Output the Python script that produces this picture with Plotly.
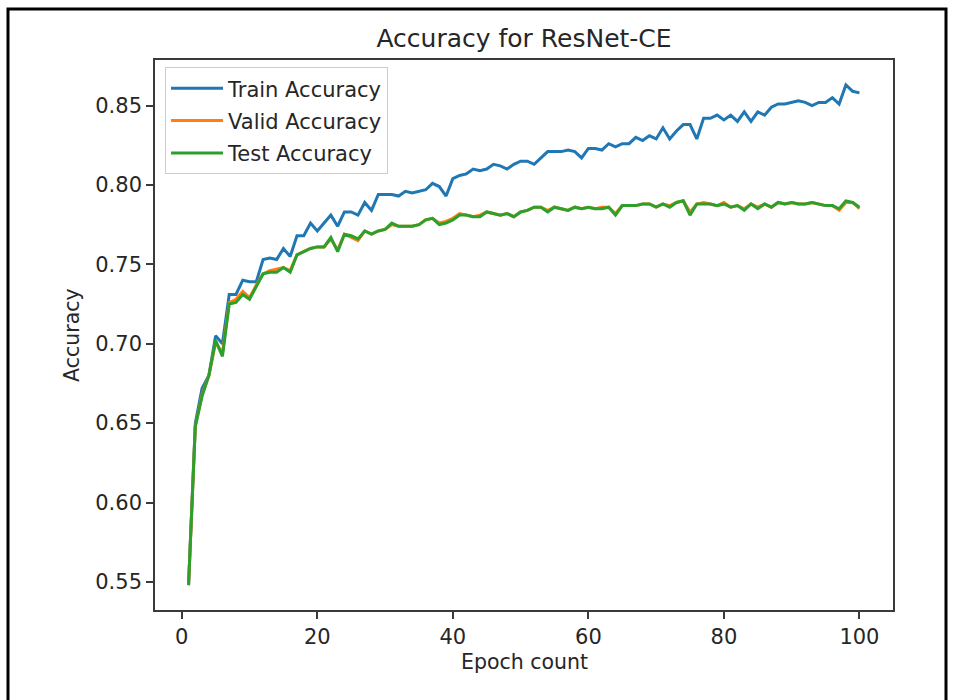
import plotly.graph_objects as go

epochs = list(range(1, 101))

train_acc = [
    0.548, 0.650, 0.672, 0.680, 0.705, 0.700, 0.731, 0.731, 0.740, 0.739,
    0.739, 0.753, 0.754, 0.753, 0.760, 0.755, 0.768, 0.768, 0.776, 0.771,
    0.776, 0.781, 0.774, 0.783, 0.783, 0.781, 0.789, 0.784, 0.794, 0.794,
    0.794, 0.793, 0.796, 0.795, 0.796, 0.797, 0.801, 0.799, 0.793, 0.804,
    0.806, 0.807, 0.810, 0.809, 0.810, 0.813, 0.812, 0.810, 0.813, 0.815,
    0.815, 0.813, 0.817, 0.821, 0.821, 0.821, 0.822, 0.821, 0.817, 0.823,
    0.823, 0.822, 0.826, 0.824, 0.826, 0.826, 0.830, 0.828, 0.831, 0.829,
    0.836, 0.829, 0.834, 0.838, 0.838, 0.829, 0.842, 0.842, 0.844, 0.841,
    0.844, 0.840, 0.846, 0.840, 0.846, 0.844, 0.849, 0.851, 0.851, 0.852,
    0.853, 0.852, 0.850, 0.852, 0.852, 0.855, 0.851, 0.863, 0.859, 0.858,
]

valid_acc = [
    0.548, 0.648, 0.668, 0.680, 0.701, 0.694, 0.726, 0.728, 0.733, 0.729,
    0.737, 0.744, 0.746, 0.747, 0.748, 0.746, 0.756, 0.758, 0.760, 0.761,
    0.761, 0.766, 0.759, 0.769, 0.767, 0.765, 0.771, 0.769, 0.771, 0.772,
    0.775, 0.774, 0.774, 0.774, 0.775, 0.778, 0.779, 0.776, 0.777, 0.779,
    0.782, 0.781, 0.780, 0.781, 0.783, 0.782, 0.781, 0.782, 0.780, 0.783,
    0.784, 0.786, 0.786, 0.784, 0.786, 0.785, 0.784, 0.786, 0.785, 0.786,
    0.785, 0.786, 0.786, 0.782, 0.787, 0.787, 0.787, 0.788, 0.788, 0.786,
    0.788, 0.787, 0.789, 0.790, 0.783, 0.788, 0.789, 0.788, 0.787, 0.789,
    0.786, 0.787, 0.785, 0.788, 0.786, 0.788, 0.786, 0.789, 0.788, 0.789,
    0.788, 0.788, 0.789, 0.788, 0.787, 0.787, 0.784, 0.789, 0.789, 0.785,
]

test_acc = [
    0.548, 0.648, 0.667, 0.680, 0.702, 0.692, 0.725, 0.726, 0.731, 0.728,
    0.736, 0.744, 0.745, 0.745, 0.748, 0.745, 0.756, 0.758, 0.760, 0.761,
    0.761, 0.767, 0.758, 0.769, 0.768, 0.766, 0.771, 0.769, 0.771, 0.772,
    0.776, 0.774, 0.774, 0.774, 0.775, 0.778, 0.779, 0.775, 0.776, 0.778,
    0.781, 0.781, 0.780, 0.780, 0.783, 0.782, 0.781, 0.782, 0.780, 0.783,
    0.784, 0.786, 0.786, 0.783, 0.786, 0.785, 0.784, 0.786, 0.785, 0.786,
    0.785, 0.785, 0.786, 0.781, 0.787, 0.787, 0.787, 0.788, 0.788, 0.786,
    0.788, 0.786, 0.789, 0.790, 0.781, 0.788, 0.788, 0.788, 0.787, 0.788,
    0.786, 0.787, 0.784, 0.788, 0.785, 0.788, 0.786, 0.789, 0.788, 0.789,
    0.788, 0.788, 0.789, 0.788, 0.787, 0.787, 0.785, 0.790, 0.789, 0.786,
]

x_ticks = [0, 20, 40, 60, 80, 100]
y_ticks = [0.55, 0.60, 0.65, 0.70, 0.75, 0.80, 0.85]

FONT = "DejaVu Sans"
AXC = "#3a3a3a"
TXT = "#262626"

fig = go.Figure()
fig.add_trace(go.Scatter(x=epochs, y=train_acc, mode="lines", name="Train Accuracy",
                         legendgroup="a", line=dict(color="#1f77b4", width=3)))
fig.add_trace(go.Scatter(x=epochs, y=valid_acc, mode="lines", name="Valid Accuracy",
                         legendgroup="b", line=dict(color="#ff7f0e", width=3)))
fig.add_trace(go.Scatter(x=epochs, y=test_acc, mode="lines", name="Test Accuracy",
                         legendgroup="c", line=dict(color="#2ca02c", width=3)))

axis_common = dict(
    showline=True, mirror=True, linecolor=AXC, linewidth=1.6,
    ticks="outside", ticklen=7, tickwidth=1.6, tickcolor=AXC,
    showgrid=False, zeroline=False,
    tickfont=dict(family=FONT, size=21, color=TXT),
)

fig.update_layout(
    width=954, height=700,
    paper_bgcolor="white", plot_bgcolor="white",
    margin=dict(l=155, r=61, t=60, b=90),
    font=dict(family=FONT, size=21, color=TXT),
    title=dict(text="Accuracy for ResNet-CE", x=0.5, xref="paper", xanchor="center",
               y=1 - 38 / 700, yref="container", yanchor="middle",
               font=dict(family=FONT, size=25, color=TXT)),
    xaxis=dict(range=[-3.95, 104.95], tickvals=x_ticks,
               ticktext=[str(v) for v in x_ticks], **axis_common),
    yaxis=dict(range=[0.5323, 0.8787], tickvals=y_ticks,
               ticktext=[f"{v:.2f}" for v in y_ticks], **axis_common),
    legend=dict(x=0.0136, y=0.987, xanchor="left", yanchor="top",
                bgcolor="rgba(255,255,255,0.8)", bordercolor="#cccccc", borderwidth=1,
                font=dict(family=FONT, size=21, color=TXT),
                tracegroupgap=2, itemwidth=52),
    showlegend=True,
    annotations=[
        dict(text="Epoch count", x=0.5, y=(610 - 662) / 550, xref="paper", yref="paper",
             xanchor="center", yanchor="middle", showarrow=False,
             font=dict(family=FONT, size=20.5, color=TXT)),
        dict(text="Accuracy", x=(72 - 155) / 738, y=0.5, xref="paper", yref="paper",
             xanchor="center", yanchor="middle", showarrow=False, textangle=-90,
             font=dict(family=FONT, size=20.5, color=TXT)),
    ],
    shapes=[
        dict(type="rect", xref="paper", yref="paper",
             x0=(8 - 155) / 738, x1=(946 - 155) / 738,
             y0=(610 - 712) / 550, y1=(610 - 9) / 550,
             line=dict(color="black", width=3), fillcolor="rgba(0,0,0,0)", layer="above"),
    ],
)

fig.write_html("out.html")
